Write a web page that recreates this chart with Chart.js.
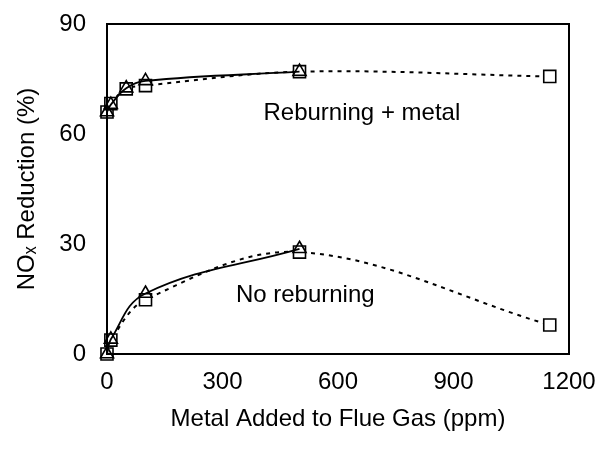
<!DOCTYPE html>
<html>
<head>
<meta charset="utf-8">
<script src="https://cdn.jsdelivr.net/npm/chart.js@4"></script>
<style>
html,body{margin:0;padding:0;background:#fff;}
#wrap{width:597px;height:449px;}
</style>
</head>
<body>
<div id="wrap"><canvas id="c" width="597" height="449"></canvas></div>
<script>
// Metal added (ppm)
const metalSquares = [0, 10, 50, 100, 500, 1150];
const reburnSquares = [66, 68.3, 72.3, 73.2, 77, 75.7];
const metalTriangles = [0, 10, 50, 100, 500];
const reburnTriangles = [66, 68, 72.5, 74.5, 77];

const metalSquaresNo = [0, 10, 100, 500, 1150];
const noReburnSquares = [0, 3.8, 14.8, 27.8, 7.9];
const metalTrianglesNo = [0, 10, 100, 500];
const noReburnTriangles = [0, 4, 16.5, 28.7];

const xTicks = [0, 300, 600, 900, 1200];
const yTicks = [0, 30, 60, 90];

const labels = [
  {text: 'Reburning + metal', x: 662, y: 65.7},
  {text: 'No reburning', x: 515, y: 16.1}
];

const FONT = 'Liberation Sans, Arial, sans-serif';
const FS = 24;

function pts(xs, ys){ return xs.map((x,i)=>({x:x, y:ys[i]})); }

const sqStyle = {
  pointStyle: 'rect', pointRadius: 8.5, pointBorderWidth: 1.6,
  pointBackgroundColor: '#fff', pointBorderColor: '#000',
  borderColor: '#000', borderWidth: 2, borderDash: [4,5],
  tension: 0.35, fill: false, clip: false
};
const triStyle = {
  pointStyle: 'triangle', pointRadius: 7.5, pointBorderWidth: 1.6,
  pointBackgroundColor: 'rgba(255,255,255,0)', pointBorderColor: '#000',
  borderColor: '#000', borderWidth: 1.8,
  tension: 0.4, fill: false, clip: false
};

const boxPlugin = {
  id: 'box',
  afterDatasetsDraw(chart){
    const {ctx, chartArea: a, scales} = chart;
    ctx.save();
    ctx.strokeStyle = '#000';
    ctx.lineWidth = 2;
    ctx.strokeRect(a.left, a.top, a.right - a.left, a.bottom - a.top);
    ctx.fillStyle = '#000';
    ctx.font = FS + 'px ' + FONT;
    ctx.textAlign = 'center';
    ctx.textBaseline = 'middle';
    labels.forEach(l => {
      ctx.fillText(l.text, scales.x.getPixelForValue(l.x), scales.y.getPixelForValue(l.y));
    });
    ctx.restore();
  }
};

new Chart(document.getElementById('c'), {
  type: 'line',
  data: {
    datasets: [
      Object.assign({label: 'Reburning + metal (tri)', data: pts(metalTriangles, reburnTriangles)}, triStyle),
      Object.assign({label: 'No reburning (tri)', data: pts(metalTrianglesNo, noReburnTriangles)}, triStyle),
      Object.assign({label: 'Reburning + metal (sq)', data: pts(metalSquares, reburnSquares)}, sqStyle),
      Object.assign({label: 'No reburning (sq)', data: pts(metalSquaresNo, noReburnSquares)}, sqStyle)
    ]
  },
  options: {
    responsive: false,
    animation: false,
    layout: {padding: {top: 24, right: 28, left: 0, bottom: 0}},
    plugins: {legend: {display: false}, tooltip: {enabled: false}},
    scales: {
      x: {
        type: 'linear', min: 0, max: 1200,
        afterBuildTicks(s){ s.ticks = xTicks.map(v => ({value: v})); },
        afterFit(s){ s.height = 95; s.paddingLeft = 0; s.paddingRight = 0; },
        grid: {display: false, drawOnChartArea: false, drawTicks: true, tickLength: 9, tickColor: '#000', tickWidth: 1.5},
        border: {display: true, color: '#000', width: 2},
        ticks: {color: '#000', font: {family: FONT, size: FS}, padding: 5, maxRotation: 0,
                callback: v => String(v)},
        title: {display: true, text: 'Metal Added to Flue Gas (ppm)', color: '#000', font: {family: FONT, size: FS}, padding: {top: 0, bottom: 15}}
      },
      y: {
        type: 'linear', min: 0, max: 90,
        afterBuildTicks(s){ s.ticks = yTicks.map(v => ({value: v})); },
        afterFit(s){ s.width = 107; s.paddingTop = 0; s.paddingBottom = 0; },
        grid: {display: false, drawOnChartArea: false, drawTicks: true, tickLength: 9, tickColor: '#000', tickWidth: 1.5},
        border: {display: true, color: '#000', width: 2},
        ticks: {color: '#000', font: {family: FONT, size: FS}, padding: 12, callback: v => String(v)},
        title: {display: true, text: 'NOₓ Reduction (%)', color: '#000', font: {family: FONT, size: FS}, padding: {top: 13, bottom: 0}}
      }
    }
  },
  plugins: [boxPlugin]
});
</script>
</body>
</html>
